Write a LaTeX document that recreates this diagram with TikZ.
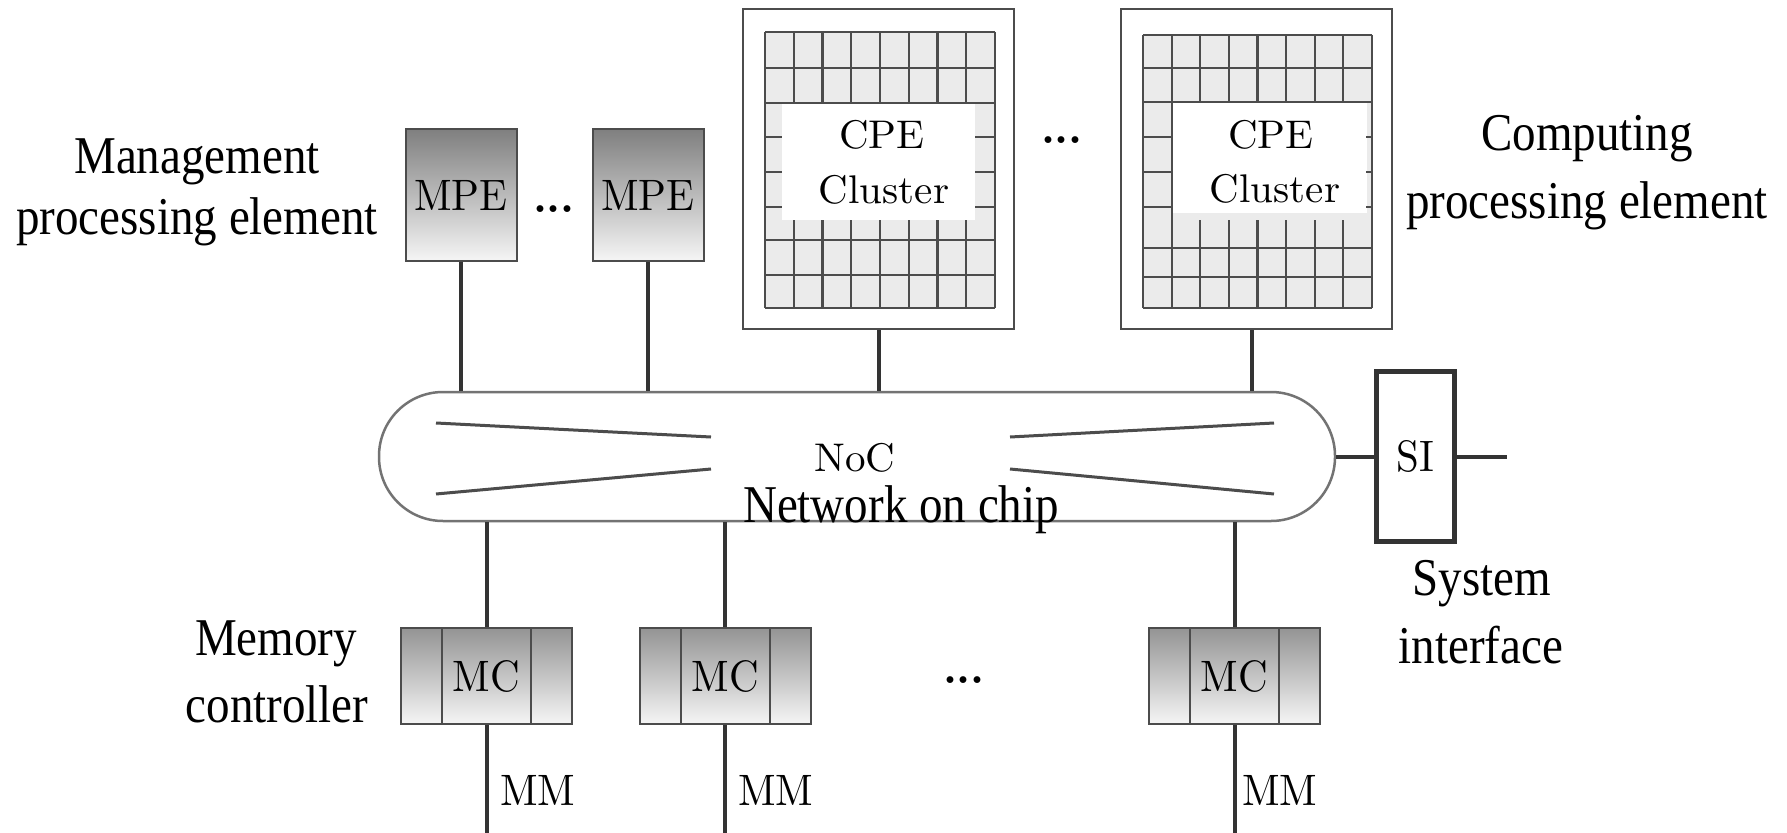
\documentclass[tikz,border=0pt]{standalone}
\usepackage{fontspec}
\newfontfamily\tnr{Liberation Serif}
\newcommand\lblfont{\tnr\fontsize{47}{56}\selectfont}
\newcommand\cmt[1]{\scalebox{4.1}[4.0]{\fontsize{10}{12}\selectfont #1}}
\newcommand\cmb[1]{\scalebox{4.1}[4.4]{\fontsize{10}{12}\selectfont #1}}
\newcommand\tnl[1]{\scalebox{1}[1.13]{#1}}
\newcommand\dotsx{\scalebox{4.4}{\fontsize{10}{12}\selectfont\bfseries .\kern-0.02em.\kern-0.02em.}}
\tikzset{
  conn/.style={line width=4pt, draw=black!80},
  mpebox/.style={draw=black!70, line width=2pt, top color=black!50, bottom color=black!4,
    minimum width=111pt, minimum height=131pt, inner sep=0pt},
  mcbox/.style={draw=black!70, line width=2pt, top color=black!42, bottom color=black!4,
    minimum width=171pt, minimum height=96pt, inner sep=0pt},
  cpebox/.style={draw=black!70, line width=2pt, minimum width=271pt, minimum height=320pt, inner sep=0pt},
  nocbox/.style={draw=black!55, line width=2.5pt, rounded corners=64pt, minimum width=956pt, minimum height=129pt, inner sep=0pt},
  sibox/.style={draw=black!80, line width=5pt, minimum width=78pt, minimum height=170pt, inner sep=0pt},
  gridline/.style={draw=black!70, line width=2.2pt},
  nocline/.style={draw=black!70, line width=3pt},
  divline/.style={draw=black!70, line width=2pt},
  boxtext/.style={inner sep=0pt, anchor=base},
  lbltext/.style={font=\lblfont, inner sep=0pt, anchor=base},
}
\begin{document}
\begin{tikzpicture}[x=1pt,y=-1pt]
\useasboundingbox (0,0) rectangle (1787,832);
\fill[white] (0,0) rectangle (1787,832);

% ---------- CPE cluster 1 ----------
\node[cpebox] (cpe1) at (878.5,169) {};
\fill[black!8] (765,32) rectangle (995,308);
\fill[white] (782,103) rectangle (975,220);
\foreach \y in {32,68,103,240,275,308} \draw[gridline] (765,\y) -- (995,\y);
\draw[gridline] (765,32) -- (765,308);
\draw[gridline] (995,32) -- (995,308);
\foreach \i in {1,...,7} {
  \pgfmathsetmacro\xx{765+28.75*\i}
  \draw[gridline] (\xx,32) -- (\xx,103);
  \draw[gridline] (\xx,220) -- (\xx,308);
}
\foreach \y in {137,172,207} {
  \draw[gridline] (765,\y) -- (782,\y);
  \draw[gridline] (975,\y) -- (995,\y);
}
\node[boxtext] (cpe1a) at (882,148) {\cmt{CPE}};
\node[boxtext] (cpe1b) at (884,203) {\cmt{Cluster}};

% ---------- CPE cluster 2 ----------
\node[cpebox] (cpe2) at (1256.5,169) {};
\fill[black!8] (1143,35) rectangle (1372,308);
\fill[white] (1172,102) rectangle (1367,213);
\foreach \y in {35,68,102,248,277,308} \draw[gridline] (1143,\y) -- (1372,\y);
\draw[gridline] (1143,35) -- (1143,308);
\draw[gridline] (1372,35) -- (1372,308);
\draw[gridline] (1171.6,35) -- (1171.6,308);
\foreach \i in {2,...,7} {
  \pgfmathsetmacro\xx{1143+28.625*\i}
  \draw[gridline] (\xx,35) -- (\xx,102);
  \draw[gridline] (\xx,220) -- (\xx,308);
}
\foreach \y in {137,172,207} {
  \draw[gridline] (1143,\y) -- (1171.6,\y);
  \draw[gridline] (1366,\y) -- (1372,\y);
}
\node[boxtext] (cpe2a) at (1271,148) {\cmt{CPE}};
\node[boxtext] (cpe2b) at (1275,202) {\cmt{Cluster}};

\node[boxtext] (dotsc) at (1062,143) {\dotsx};

% ---------- MPE ----------
\node[mpebox] (mpe1) at (461,195) {\cmb{MPE}};
\node[mpebox] (mpe2) at (648,195) {\cmb{MPE}};
\node[boxtext] (dotsm) at (554,212) {\dotsx};

% ---------- NoC ----------
\node[nocbox] (noc) at (857,456.5) {};
\draw[nocline] (436,423) -- (711,437);
\draw[nocline] (436,494) -- (711,469);
\draw[nocline] (1010,437) -- (1274,423);
\draw[nocline] (1010,469) -- (1274,494);
\node[boxtext] (noct) at (855,471) {\cmt{NoC}};
\node[lbltext] (nocl) at (901,522) {\tnl{Network on chip}};

% ---------- SI ----------
\node[sibox] (si) at (1415.5,456.5) {\cmb{SI}};
\coordinate (siout) at (1507,456.5);
\draw[conn] (noc.east) -- (si.west);
\draw[conn] (si.east) -- (siout);

% ---------- MC ----------
\node[mcbox] (mc1) at (486.5,676) {\cmb{MC}};
\node[mcbox] (mc2) at (725,676) {\cmb{MC}};
\node[mcbox] (mc3) at (1234.5,676) {\cmb{MC}};
\foreach \m in {mc1,mc2,mc3} {
  \draw[divline] ([xshift=42pt]\m.north west) -- ([xshift=42pt]\m.south west);
  \draw[divline] ([xshift=-42pt]\m.north east) -- ([xshift=-42pt]\m.south east);
}
\node[boxtext] (dotsmc) at (964,683) {\dotsx};

% ---------- connectors ----------
\coordinate (bot) at (0,834);
\draw[conn] (mpe1.south) -- (mpe1.south |- noc.north);
\draw[conn] (mpe2.south) -- (mpe2.south |- noc.north);
\draw[conn] (cpe1.south) -- (cpe1.south |- noc.north);
\draw[conn] ([xshift=-5pt]cpe2.south) -- ([xshift=-5pt]cpe2.south |- noc.north);
\foreach \m in {mc1,mc2,mc3} {
  \draw[conn] (\m.north |- noc.south) -- (\m.north);
  \draw[conn] (\m.south) -- (\m.south |- bot);
}
\node[boxtext, anchor=base west] (mm1) at (500,805) {\cmb{MM}};
\node[boxtext, anchor=base west] (mm2) at (738,805) {\cmb{MM}};
\node[boxtext, anchor=base west] (mm3) at (1242,805) {\cmb{MM}};

% ---------- labels ----------
\node[lbltext] (mg1) at (197,173) {\tnl{Management}};
\node[lbltext] (mg2) at (197,234) {\tnl{processing element}};
\node[lbltext] (cp1) at (1587,150) {\tnl{Computing}};
\node[lbltext] (cp2) at (1587,218) {\tnl{processing element}};
\node[lbltext] (me1) at (276,655) {\tnl{Memory}};
\node[lbltext] (me2) at (277,722) {\tnl{controller}};
\node[lbltext] (sy1) at (1482,595) {\tnl{System}};
\node[lbltext] (sy2) at (1481,663) {\tnl{interface}};
\end{tikzpicture}
\end{document}
